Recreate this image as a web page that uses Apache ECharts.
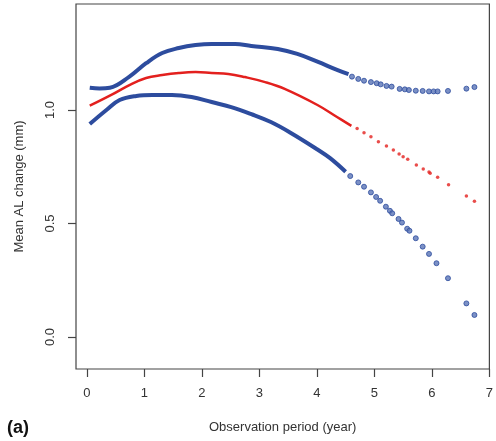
<!DOCTYPE html>
<html>
<head>
<meta charset="utf-8">
<script src="https://cdn.jsdelivr.net/npm/echarts@6/dist/echarts.min.js"></script>
<style>
  html, body { margin: 0; padding: 0; background: #fff; }
  #main { width: 496px; height: 441px; }
</style>
</head>
<body>
<div id="main"></div>
<script>
  // ticks
  var xTicks = [0, 1, 2, 3, 4, 5, 6, 7];
  var yTicks = [0, 0.5, 1.0];

  // dense part (drawn as a line)
  var upperX = [0.05, 0.22, 0.4, 0.74, 1.03, 1.31, 1.6, 1.89, 2.17, 2.58, 2.86, 3.32, 3.66, 4.01, 4.35, 4.55];
  var upperY = [1.098, 1.095, 1.098, 1.147, 1.206, 1.251, 1.273, 1.286, 1.291, 1.291, 1.282, 1.269, 1.247, 1.213, 1.177, 1.158];
  var meanX = [0.05, 0.45, 0.74, 1.03, 1.31, 1.6, 1.89, 2.17, 2.46, 2.75, 3.1, 3.44, 4.01, 4.35, 4.6];
  var meanY = [1.019, 1.07, 1.11, 1.141, 1.154, 1.163, 1.167, 1.163, 1.159, 1.145, 1.123, 1.093, 1.022, 0.969, 0.93];
  var lowerX = [0.05, 0.34, 0.57, 0.86, 1.14, 1.48, 1.82, 2.17, 2.51, 2.86, 3.2, 3.54, 4.01, 4.23, 4.5];
  var lowerY = [0.938, 1.0, 1.044, 1.062, 1.066, 1.066, 1.057, 1.035, 1.013, 0.982, 0.947, 0.900, 0.826, 0.788, 0.728];

  // sparse tail (single points)
  var upperTailX = [4.61, 4.72, 4.82, 4.94, 5.04, 5.11, 5.21, 5.30, 5.44, 5.53, 5.60, 5.72, 5.84, 5.95, 6.03, 6.10, 6.28, 6.60, 6.74];
  var upperTailY = [1.147, 1.137, 1.129, 1.123, 1.118, 1.113, 1.106, 1.103, 1.093, 1.091, 1.088, 1.085, 1.084, 1.082, 1.082, 1.082, 1.084, 1.094, 1.101];
  var meanTailX = [4.70, 4.82, 4.94, 5.07, 5.21, 5.33, 5.43, 5.50, 5.58, 5.73, 5.85, 5.95, 5.97, 6.10, 6.29, 6.60, 6.74];
  var meanTailY = [0.919, 0.900, 0.882, 0.860, 0.841, 0.824, 0.806, 0.794, 0.783, 0.758, 0.740, 0.727, 0.721, 0.704, 0.671, 0.621, 0.598];
  var lowerTailX = [4.58, 4.72, 4.82, 4.94, 5.03, 5.10, 5.20, 5.27, 5.31, 5.42, 5.48, 5.57, 5.61, 5.72, 5.84, 5.95, 6.08, 6.28, 6.60, 6.74];
  var lowerTailY = [0.709, 0.681, 0.662, 0.637, 0.617, 0.600, 0.574, 0.556, 0.545, 0.520, 0.504, 0.477, 0.468, 0.435, 0.398, 0.366, 0.325, 0.259, 0.148, 0.097];

  function pairs(xs, ys) {
    var out = [];
    for (var i = 0; i < xs.length; i++) out.push([xs[i], ys[i]]);
    return out;
  }

  var blue = '#2d4c9e';
  var red = '#e3201e';
  var axisColor = '#444';
  var font = 'Liberation Sans, Arial, sans-serif';

  var myChart = echarts.init(document.getElementById('main'));

  var option = {
    animation: false,
    backgroundColor: '#fff',
    grid: {
      left: 76,
      top: 4,
      width: 418,
      height: 365,
      show: true,
      borderColor: axisColor,
      borderWidth: 1.2,
      backgroundColor: 'transparent'
    },
    xAxis: {
      type: 'value',
      min: -0.189,
      max: 7,
      name: 'Observation period (year)',
      nameLocation: 'middle',
      nameGap: 52,
      nameTextStyle: { color: '#333', fontSize: 13, fontFamily: font },
      splitLine: { show: false },
      axisLine: { show: false, onZero: false },
      axisTick: {
        show: true,
        length: 8,
        customValues: xTicks,
        lineStyle: { color: axisColor, width: 1.2 }
      },
      axisLabel: {
        customValues: xTicks,
        margin: 18,
        color: '#333',
        fontSize: 13,
        fontFamily: font
      }
    },
    yAxis: {
      type: 'value',
      min: -0.141,
      max: 1.467,
      name: 'Mean AL change (mm)',
      nameLocation: 'middle',
      nameGap: 50,
      nameTextStyle: { color: '#333', fontSize: 13, fontFamily: font },
      splitLine: { show: false },
      axisLine: { show: false, onZero: false },
      axisTick: {
        show: true,
        length: 8,
        customValues: yTicks,
        lineStyle: { color: axisColor, width: 1.2 }
      },
      axisLabel: {
        customValues: yTicks,
        rotate: 90,
        margin: 19,
        color: '#333',
        fontSize: 13,
        fontFamily: font,
        formatter: function (v) { return v.toFixed(1); }
      }
    },
    graphic: [{
      type: 'text',
      left: 7,
      top: 419,
      style: { text: '(a)', font: 'bold 18px ' + font, fill: '#111' }
    }],
    series: [
      {
        type: 'line', smooth: 0.4, showSymbol: false, symbol: 'none',
        data: pairs(upperX, upperY),
        lineStyle: { color: blue, width: 4 }
      },
      {
        type: 'line', smooth: 0.4, showSymbol: false, symbol: 'none',
        data: pairs(meanX, meanY),
        lineStyle: { color: red, width: 2.5 }
      },
      {
        type: 'line', smooth: 0.4, showSymbol: false, symbol: 'none',
        data: pairs(lowerX, lowerY),
        lineStyle: { color: blue, width: 4 }
      },
      {
        type: 'scatter', symbolSize: 5,
        data: pairs(upperTailX, upperTailY),
        itemStyle: { color: '#5a74b6', borderColor: blue, borderWidth: 1 }
      },
      {
        type: 'scatter', symbolSize: 3.5,
        data: pairs(meanTailX, meanTailY),
        itemStyle: { color: red }
      },
      {
        type: 'scatter', symbolSize: 5,
        data: pairs(lowerTailX, lowerTailY),
        itemStyle: { color: '#5a74b6', borderColor: blue, borderWidth: 1 }
      }
    ]
  };

  myChart.setOption(option);
</script>
</body>
</html>
